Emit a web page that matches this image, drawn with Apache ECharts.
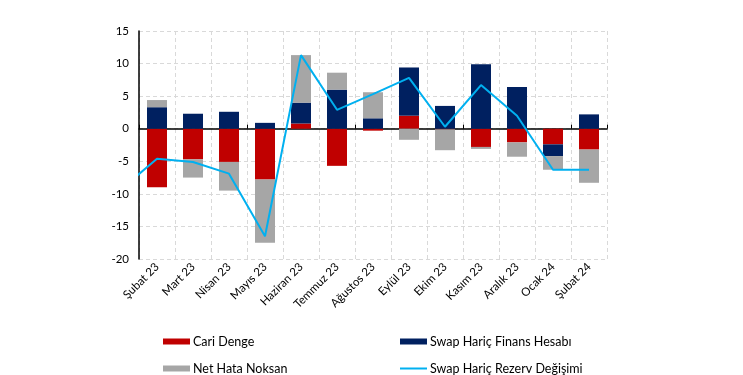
<!DOCTYPE html>
<html>
<head>
<meta charset="utf-8">
<script src="https://cdn.jsdelivr.net/npm/echarts@6/dist/echarts.min.js"></script>
<style>
  html, body { margin: 0; padding: 0; background: #fff; }
  #chart { width: 743px; height: 375px; }
</style>
</head>
<body>
<div id="chart"></div>
<script>
// aylar
var months = ['Şubat 23', 'Mart 23', 'Nisan 23', 'Mayıs 23', 'Haziran 23', 'Temmuz 23', 'Ağustos 23',
              'Eylül 23', 'Ekim 23', 'Kasım 23', 'Aralık 23', 'Ocak 24', 'Şubat 24'];

// milyar $
var cariDenge   = [-9.0, -4.7, -5.1, -7.8, 0.8, -5.7, -0.3, 2.0, -0.1, -2.8, -2.1, -2.4, -3.2];
var finansHesap = [3.3, 2.3, 2.6, 0.9, 3.2, 6.0, 1.6, 7.4, 3.5, 9.9, 6.4, -1.8, 2.2];
var netHata     = [1.1, -2.8, -4.4, -9.7, 7.3, 2.6, 4.0, -1.7, -3.2, -0.3, -2.2, -2.1, -5.1];
// ilk değer Ocak 23 (grafiğin dışında kalıyor, sadece çizginin başı görünüyor)
var rezervDegisim = [-9.3, -4.6, -5.1, -6.9, -16.5, 11.3, 2.9, 5.3, 7.8, 0.3, 6.7, 2.0, -6.3, -6.3];

var yTicks = [-20, -15, -10, -5, 0, 5, 10, 15];

var font = 'Lato, "Liberation Sans", sans-serif';

var chart = echarts.init(document.getElementById('chart'));

// cizgi icin deger ekseni, kategori ortasi = i + 0.5 (ilk nokta Ocak 23 -> -0.5)
var lineData = rezervDegisim.map(function (v, i) {
    return [i - 0.5, v];
});

function legendItem(name, left, top) {
    return {
        left: left,
        top: top,
        data: [{ name: name, icon: 'rect' }],
        itemWidth: 27,
        itemHeight: 6,
        itemGap: 0,
        textStyle: { fontFamily: font, fontSize: 12.5, color: '#000', padding: [0, 0, 0, -2] },
        selectedMode: false
    };
}

var option = {
    animation: false,
    color: ['#C00000', '#002060', '#A6A6A6', '#00B0F0'],
    grid: { left: 139, right: 136, top: 31, bottom: 116 },
    legend: [
        legendItem('Cari Denge', 158, 330),
        legendItem('Swap Hariç Finans Hesabı', 395, 330),
        legendItem('Net Hata Noksan', 158, 357),
        {
            left: 395, top: 357,
            data: ['Swap Hariç Rezerv Değişimi'],
            itemWidth: 27, itemHeight: 14, itemGap: 0,
            icon: 'path://M0,6 L27,6 L27,8 L0,8 Z',
            itemStyle: { color: '#00B0F0' },
            textStyle: { fontFamily: font, fontSize: 12.5, color: '#000', padding: [0, 0, 0, -2] },
            selectedMode: false
        }
    ],
    xAxis: [
        {
            type: 'category',
            data: months,
            position: 'bottom',
            axisLine: { show: false, onZero: false },
            axisTick: { show: false },
            axisLabel: {
                rotate: 45,
                interval: 0,
                margin: 6,
                fontFamily: font,
                fontSize: 11.5,
                color: '#000'
            },
            splitLine: { show: true, lineStyle: { color: '#D9D9D9', type: [4, 3] } }
        },
        {
            type: 'category',
            data: months,
            axisLine: { show: true, onZero: true, lineStyle: { color: '#000', width: 1.5 } },
            axisTick: { show: true, length: 4, lineStyle: { color: '#000' } },
            axisLabel: { show: false },
            splitLine: { show: false }
        },
        {
            type: 'value',
            min: 0,
            max: months.length,
            show: false
        }
    ],
    yAxis: {
        type: 'value',
        min: -20,
        max: 15,
        interval: 5,
        axisLine: { show: true, onZero: false, lineStyle: { color: '#000', width: 1.5 } },
        axisTick: { show: false },
        axisLabel: {
            margin: 10,
            fontFamily: font,
            fontSize: 11.5,
            color: '#000',
            formatter: function (v) { return yTicks.indexOf(v) >= 0 ? String(v) : ''; }
        },
        splitLine: { show: true, lineStyle: { color: '#D9D9D9', type: [4, 3] } }
    },
    series: [
        {
            name: 'Cari Denge',
            type: 'bar',
            stack: 'toplam',
            barWidth: 20,
            data: cariDenge
        },
        {
            name: 'Swap Hariç Finans Hesabı',
            type: 'bar',
            stack: 'toplam',
            barWidth: 20,
            data: finansHesap
        },
        {
            name: 'Net Hata Noksan',
            type: 'bar',
            stack: 'toplam',
            barWidth: 20,
            data: netHata
        },
        {
            name: 'Swap Hariç Rezerv Değişimi',
            type: 'line',
            xAxisIndex: 2,
            showSymbol: false,
            symbol: 'none',
            clip: true,
            lineStyle: { color: '#00B0F0', width: 2 },
            data: lineData
        }
    ]
};

chart.setOption(option);
</script>
</body>
</html>
